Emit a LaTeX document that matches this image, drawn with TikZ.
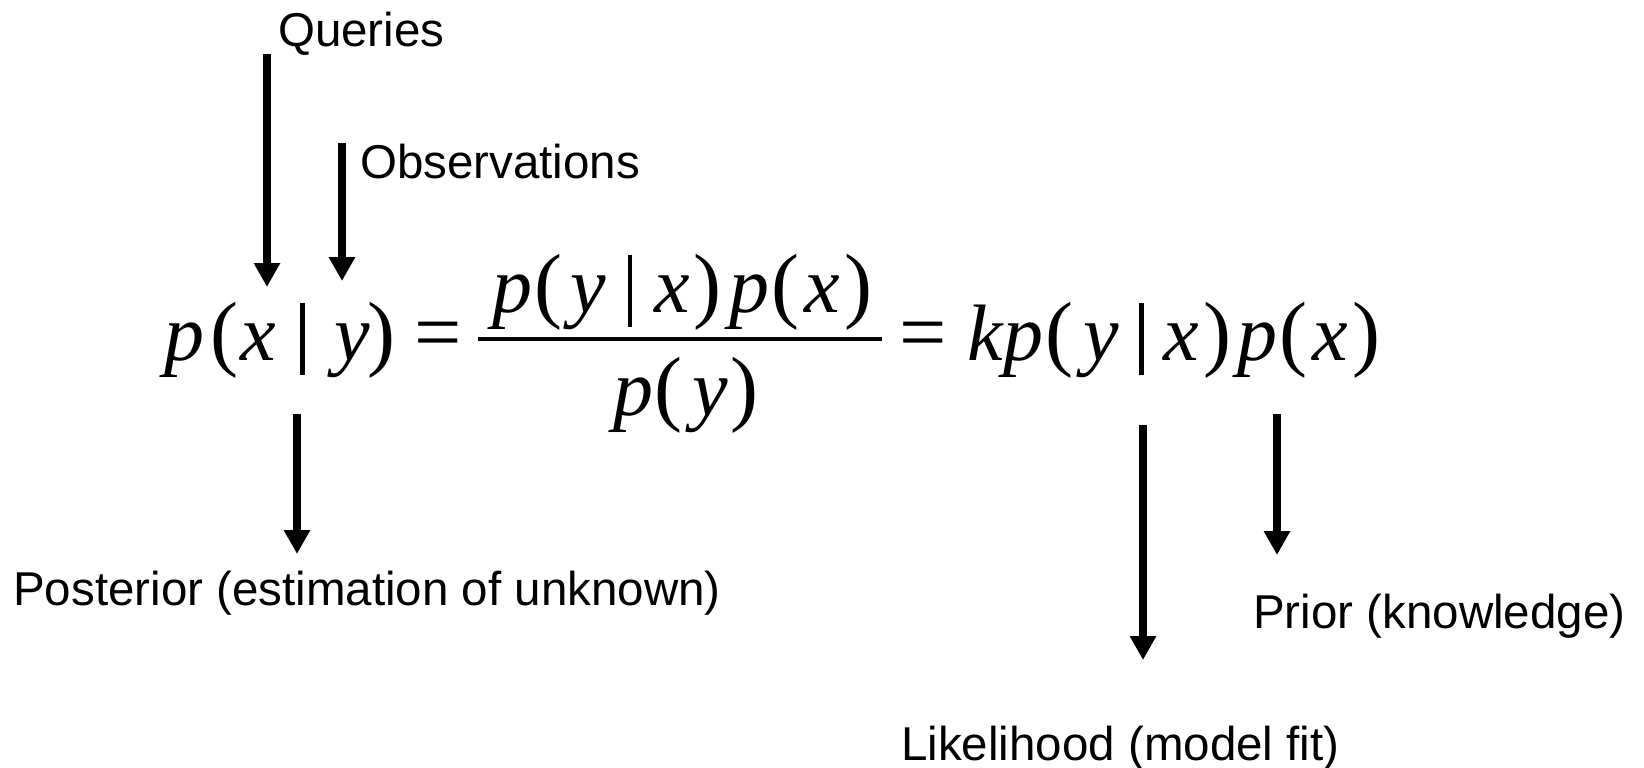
\documentclass[tikz,border=0pt]{standalone}
\usepackage{fontspec}
\setmainfont{Liberation Sans}
\newfontfamily\eqfont{Liberation Serif}
\usetikzlibrary{arrows.meta}
\newcommand\mvar[1]{{\eqfont\fontsize{80}{82}\selectfont\itshape #1}}
\newcommand\mlp{{\eqfont\fontsize{84}{86}\selectfont(}}
\newcommand\mrp{{\eqfont\fontsize{84}{86}\selectfont)}}
\newcommand\mbar{\rule[-15pt]{4.5pt}{72pt}}
\newcommand\meq{{\eqfont\fontsize{84}{86}\selectfont=}}
\tikzset{
  lbl/.style={anchor=base west,inner sep=0pt,font=\fontsize{47.5}{50}\selectfont},
  eqpart/.style={anchor=base,inner sep=0pt},
  bigarrow/.style={line width=7.5pt,-{Triangle[width=25pt,length=24pt]}}
}
\begin{document}
\begin{tikzpicture}[x=1pt,y=-1pt]
\path[fill=white,use as bounding box] (0,0) rectangle (1644,768);
% labels
\node[lbl] (queries) at (278,47) {Queries};
\node[lbl] (obs) at (360,178) {Observations};
\node[lbl] (post) at (13,605) {Posterior (estimation of unknown)};
\node[lbl] (prior) at (1253,628) {Prior (knowledge)};
\node[lbl] (like) at (901,760) {Likelihood (model fit)};
% equation
\node[eqpart] (lhs) at (280,360) {\mvar{p}\kern6pt\mlp\kern2pt\mvar{x}\kern24pt\mbar\kern30pt\mvar{y}\kern-3pt\mrp};
\node[eqpart] (eqA) at (438,360) {\meq};
\node[eqpart] (num) at (682.5,312) {\mvar{p}\kern2pt\mlp\kern8pt\mvar{y}\kern22pt\mbar\kern22pt\mvar{x}\kern4pt\mrp\kern8pt\mvar{p}\kern2pt\mlp\kern5pt\mvar{x}\kern5pt\mrp};
\coordinate (fracL) at (478,339);
\coordinate (fracR) at (882,339);
\draw[line width=3.5pt] (fracL) -- (fracR);
\node[eqpart] (den) at (686,415) {\mvar{p}\kern1pt\mlp\kern10pt\mvar{y}\kern2pt\mrp};
\node[eqpart] (eqB) at (923,360) {\meq};
\node[eqpart] (rhs) at (1174,360) {\mvar{k}\kern1pt\mvar{p}\kern2pt\mlp\kern10pt\mvar{y}\kern20pt\mbar\kern20pt\mvar{x}\kern4pt\mrp\kern6pt\mvar{p}\kern2pt\mlp\kern5pt\mvar{x}\kern5pt\mrp};
% arrow end points
\coordinate (qS) at (267,54);   \coordinate (qE) at (267,287);
\coordinate (oS) at (342,143);  \coordinate (oE) at (342,281);
\coordinate (pS) at (297,414);  \coordinate (pE) at (297,554);
\coordinate (lS) at (1143,425); \coordinate (lE) at (1143,660);
\coordinate (rS) at (1277,414); \coordinate (rE) at (1277,555);
\draw[bigarrow] (qS) -- (qE);
\draw[bigarrow] (oS) -- (oE);
\draw[bigarrow] (pS) -- (pE);
\draw[bigarrow] (lS) -- (lE);
\draw[bigarrow] (rS) -- (rE);
\end{tikzpicture}
\end{document}
